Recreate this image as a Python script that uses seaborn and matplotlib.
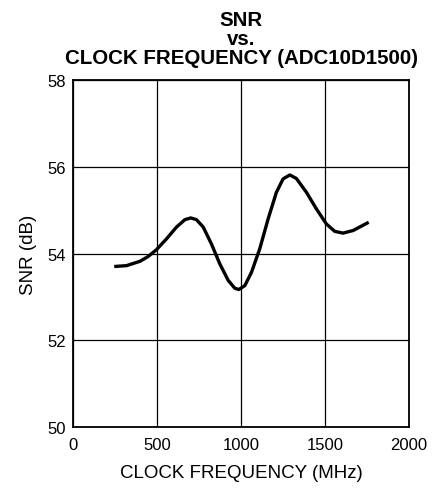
import numpy as np
import pandas as pd
import matplotlib
matplotlib.use("Agg")
import matplotlib.pyplot as plt
import seaborn as sns

# values
clock_mhz = [244, 317, 397, 446, 496, 556, 615, 665, 700, 734, 774, 823, 873, 923,
             962, 986, 1022, 1062, 1111, 1161, 1210, 1250, 1290, 1329, 1389, 1448,
             1508, 1558, 1607, 1667, 1716, 1760]
snr_db = [53.70, 53.72, 53.82, 53.93, 54.09, 54.34, 54.61, 54.78, 54.82, 54.78,
          54.61, 54.22, 53.76, 53.38, 53.20, 53.17, 53.26, 53.57, 54.11, 54.80,
          55.41, 55.72, 55.81, 55.73, 55.41, 55.03, 54.68, 54.51, 54.47, 54.53,
          54.63, 54.72]
x_ticks = [0, 500, 1000, 1500, 2000]
y_ticks = [50, 52, 54, 56, 58]

df = pd.DataFrame({"clock": clock_mhz, "snr": snr_db})

sns.set_style("white", rc={"text.color": "black", "axes.labelcolor": "black",
                           "xtick.color": "black", "ytick.color": "black"})
plt.rcParams["font.family"] = ["Liberation Sans", "DejaVu Sans"]

fig = plt.figure(figsize=(4.35, 4.89), dpi=100)
ax = fig.add_axes([0.1685, 0.1247, 0.7717, 0.7097])

sns.lineplot(data=df, x="clock", y="snr", color="black", linewidth=2.4,
             solid_joinstyle="round", solid_capstyle="butt", ax=ax)

ax.set_xlim(0, 2000)
ax.set_ylim(50, 58)
ax.set_xticks(x_ticks)
ax.set_yticks(y_ticks)
ax.tick_params(axis="x", length=0, labelsize=12, pad=7)
ax.tick_params(axis="y", length=0, labelsize=12, pad=5)
ax.grid(True, color="black", linewidth=0.9)
for s in ax.spines.values():
    s.set_color("black")
    s.set_linewidth(1.3)

ax.set_xlabel("CLOCK FREQUENCY (MHz)", fontsize=13.5, labelpad=9)
ax.set_ylabel("SNR (dB)", fontsize=13.5, labelpad=8)
ax.set_title("SNR\nvs.\nCLOCK FREQUENCY (ADC10D1500)", fontsize=14.8,
             fontweight="bold", linespacing=1.02, pad=12)

fig.savefig("out.png", dpi=100)
